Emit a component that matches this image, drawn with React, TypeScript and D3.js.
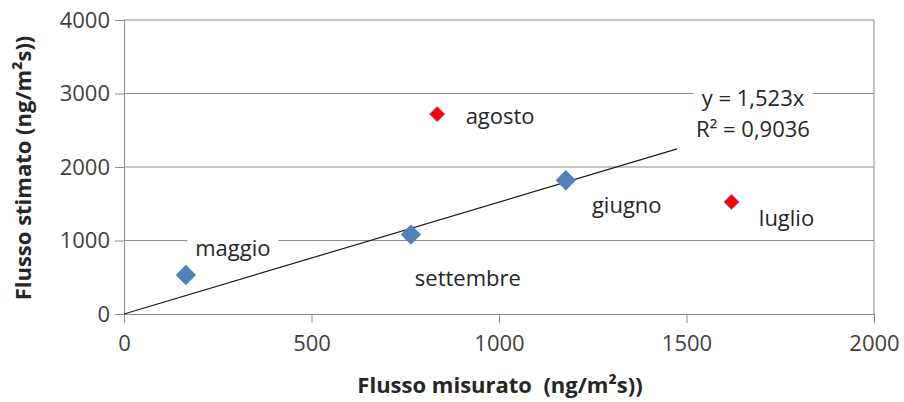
import React, { useRef, useEffect } from 'react';
import * as d3 from 'd3';

// measured (x) vs estimated (y) flux, ng/m2s
const months = ['maggio', 'settembre', 'giugno', 'agosto', 'luglio'];
const measured = [165, 765, 1178, 835, 1620];
const estimated = [530, 1080, 1820, 2720, 1525];
const outlier = [false, false, false, true, true];

const xTicks = [0, 500, 1000, 1500, 2000];
const yTicks = [0, 1000, 2000, 3000, 4000];

const slope = 1.523;
const trendEnd = 1475;
const trendLabels = ['y = 1,523x', 'R² = 0,9036'];

const FONT = '"Open Sans", sans-serif';

export default function App() {
  const ref = useRef<SVGSVGElement>(null);

  useEffect(() => {
    document.body.style.margin = '0';
    const svg = d3.select(ref.current);
    svg.selectAll('*').remove();

    const width = 904;
    const height = 402;
    const margin = { top: 20, right: 30, bottom: 88, left: 124 };
    const innerW = 874 - margin.left;
    const innerH = 314 - margin.top;

    const x = d3.scaleLinear().domain([0, 2000]).range([0, innerW]);
    const y = d3.scaleLinear().domain([0, 4000]).range([innerH, 0]);

    svg.append('rect').attr('width', width).attr('height', height).attr('fill', '#fff');

    const g = svg.append('g').attr('transform', `translate(${margin.left},${margin.top})`);

    // gridlines
    g.selectAll('.grid')
      .data(yTicks.slice(1))
      .enter().append('line')
      .attr('x1', 0).attr('x2', innerW)
      .attr('y1', d => y(d)).attr('y2', d => y(d))
      .attr('stroke', '#8c8c8c').attr('stroke-width', 1);

    // right border
    g.append('line')
      .attr('x1', innerW).attr('x2', innerW)
      .attr('y1', 0).attr('y2', innerH)
      .attr('stroke', '#8c8c8c');

    const fmt = d3.format('d');

    // y axis
    const yAxis = g.append('g')
      .call(d3.axisLeft(y).tickValues(yTicks).tickFormat(fmt).tickSize(9).tickSizeOuter(0).tickPadding(5));
    yAxis.select('.domain').attr('stroke', '#8c8c8c');
    yAxis.selectAll('line').attr('stroke', '#8c8c8c');
    yAxis.selectAll('text').attr('font-family', FONT).attr('font-size', 22).attr('fill', '#404040');

    // x axis
    const xAxis = g.append('g')
      .attr('transform', `translate(0,${innerH})`)
      .call(d3.axisBottom(x).tickValues(xTicks).tickFormat(fmt).tickSize(9).tickSizeOuter(0).tickPadding(12));
    xAxis.select('.domain').attr('stroke', '#8c8c8c');
    xAxis.selectAll('line').attr('stroke', '#8c8c8c');
    xAxis.selectAll('text').attr('font-family', FONT).attr('font-size', 22).attr('fill', '#404040');

    // trendline
    g.append('line')
      .attr('x1', x(0)).attr('y1', y(0))
      .attr('x2', x(trendEnd)).attr('y2', y(slope * trendEnd))
      .attr('stroke', '#1a1a1a').attr('stroke-width', 1.2);

    const addLabel = (text: string, cx: number, cy: number) =>
      svg.append('text')
        .attr('x', cx).attr('y', cy)
        .attr('text-anchor', 'middle')
        .attr('dominant-baseline', 'central')
        .attr('font-family', FONT)
        .attr('font-size', 22)
        .attr('fill', '#262626')
        .text(text);

    // label with white box behind (hides gridline)
    const boxed = (text: string, cx: number, cy: number) => {
      const t = addLabel(text, cx, cy);
      const bb = (t.node() as SVGTextElement).getBBox();
      svg.insert('rect', () => t.node())
        .attr('x', bb.x - 8).attr('y', bb.y)
        .attr('width', bb.width + 16).attr('height', bb.height)
        .attr('fill', '#fff');
    };

    boxed(trendLabels[0], 753, 97);
    boxed(trendLabels[1], 753, 128);

    // points
    const pts = months.map((m, i) => ({ m, x: measured[i], y: estimated[i], red: outlier[i] }));
    g.selectAll('.pt')
      .data(pts)
      .enter().append('path')
      .attr('transform', d => `translate(${x(d.x)},${y(d.y)})`)
      .attr('d', d => d3.symbol(d3.symbolDiamond2, d.red ? 150 : 265)())
      .attr('fill', d => d.red ? '#ff0000' : '#4f81bd')
      .attr('stroke', d => d.red ? '#8a7fc8' : 'none')
      .attr('stroke-width', 0.8);

    // month labels (offsets relative to point)
    const labelOffset: Record<string, [number, number]> = {
      maggio: [47, -28],
      settembre: [57, 42],
      giugno: [61, 24],
      agosto: [63, 1],
      luglio: [55, 15],
    };
    pts.forEach(p => {
      const [dx, dy] = labelOffset[p.m];
      const cx = margin.left + x(p.x) + dx;
      const cy = margin.top + y(p.y) + dy;
      if (p.m === 'maggio') boxed(p.m, cx, cy);
      else addLabel(p.m, cx, cy);
    });

    // axis titles
    svg.append('text')
      .attr('x', 500).attr('y', 384)
      .attr('text-anchor', 'middle').attr('dominant-baseline', 'central')
      .attr('font-family', FONT).attr('font-size', 22).attr('font-weight', 700)
      .attr('fill', '#262626')
      .text('Flusso misurato\u00a0 (ng/m²s))');

    svg.append('text')
      .attr('transform', `translate(22,168) rotate(-90)`)
      .attr('text-anchor', 'middle').attr('dominant-baseline', 'central')
      .attr('font-family', FONT).attr('font-size', 22).attr('font-weight', 700)
      .attr('fill', '#262626')
      .text('Flusso stimato (ng/m²s))');
  }, []);

  return <svg ref={ref} width={904} height={402} style={{ display: 'block' }} />;
}
